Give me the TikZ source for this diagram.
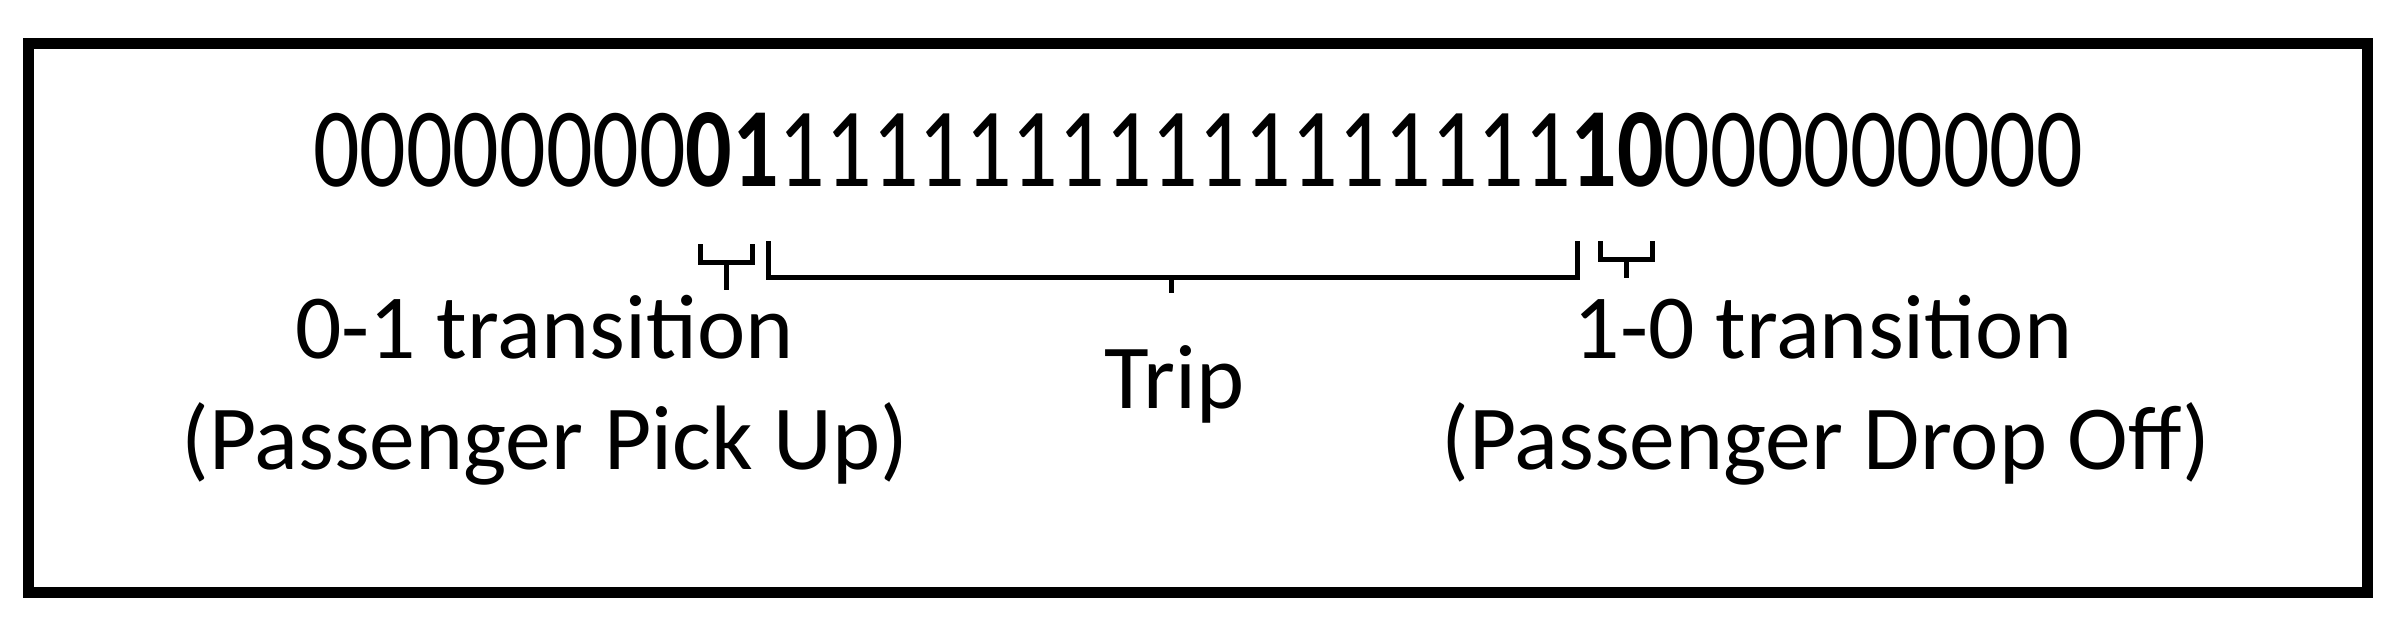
\documentclass[tikz,border=0pt]{standalone}
\usepackage{fontspec}
\setmainfont{Carlito}
\begin{document}
\begin{tikzpicture}[x=0.5pt,y=-0.5pt,
  br/.style={line width=1.6pt,line join=miter},
  lbl/.style={font=\fontsize{30}{30}\selectfont,inner sep=0pt,anchor=base}]
\useasboundingbox (0,0) rectangle (1568,415);
\node[draw,line width=3.6pt,minimum width=1533*0.5pt,minimum height=360*0.5pt,anchor=north west] (frame) at (15,25) {};
\node[inner sep=0pt,anchor=base west,xscale=0.814,transform shape,font=\fontsize{37}{37}\selectfont] (bits) at (205,122)
 {00000000\textbf{01}11111111111111111\textbf{1}\textbf{0}000000000};
% braces
\coordinate (b1t) at (476,190);
\draw[br] (459,160) -- (459,172) -- (493,172) -- (493,160) (476,172) -- (b1t);
\coordinate (b2t) at (768,192);
\draw[br] (504,158) -- (504,182) -- (1034,182) -- (1034,158) (768,182) -- (b2t);
\coordinate (b3t) at (1066,182);
\draw[br] (1049,158) -- (1049,170) -- (1083,170) -- (1083,158) (1066,170) -- (b3t);
\node[lbl] (l1) at (357,235) {0-1 transition};
\node[lbl] (l2) at (357,308) {(Passenger Pick Up)};
\node[lbl] (trip) at (770,268) {Trip};
\node[lbl] (r1) at (1195,235) {1-0 transition};
\node[lbl] (r2) at (1197,308) {(Passenger Drop Off)};
\end{tikzpicture}
\end{document}
